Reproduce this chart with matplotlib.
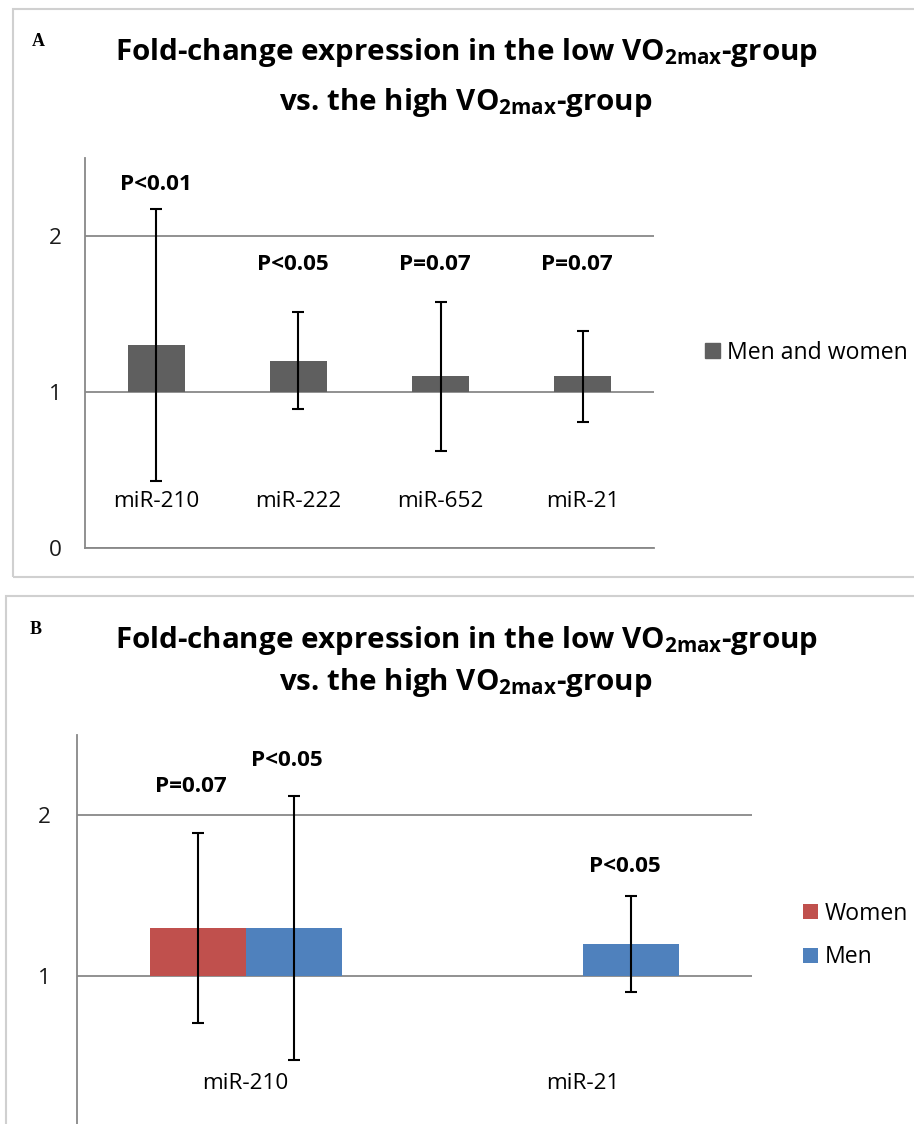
import numpy as np
import matplotlib
matplotlib.use("Agg")
import matplotlib.pyplot as plt
from matplotlib.patches import Rectangle, Patch

FONT = "Open Sans"
plt.rcParams["font.family"] = [FONT, "DejaVu Sans"]
plt.rcParams["mathtext.fontset"] = "custom"
plt.rcParams["mathtext.bf"] = FONT + ":bold"
plt.rcParams["mathtext.rm"] = FONT + ":bold"
plt.rcParams["mathtext.default"] = "bf"

# panel A: men and women pooled
mirs_a = ["miR-210", "miR-222", "miR-652", "miR-21"]
fold_a = [1.30, 1.20, 1.10, 1.10]
err_a = [0.87, 0.31, 0.48, 0.29]
pvals_a = ["P<0.01", "P<0.05", "P=0.07", "P=0.07"]

# panel B: split by sex (women not shown for miR-21)
mirs_b = ["miR-210", "miR-21"]
fold_women = [1.30, np.nan]
err_women = [0.59, np.nan]
fold_men = [1.30, 1.20]
err_men = [0.82, 0.30]
pvals_women = ["P=0.07", ""]
pvals_men = ["P<0.05", "P<0.05"]

title1 = "Fold-change expression in the low VO$_{2max}$-group"
title2 = "vs. the high VO$_{2max}$-group"

W, H = 914, 1124
GRID = "#888888"
GRAY_BAR = "#5f5f5f"
fig = plt.figure(figsize=(W / 100, H / 100), dpi=100)
renderer = fig.canvas.get_renderer()


def px(x0, y0, x1, y1):
    # pixel box (top-left origin) -> figure fraction rect
    return [x0 / W, 1 - y1 / H, (x1 - x0) / W, (y1 - y0) / H]


def fit_size(s, width_px, **kw):
    # font size that makes string s about width_px wide
    t = fig.text(0, 0, s, fontsize=20, **kw)
    w = t.get_window_extent(renderer).width
    t.remove()
    return 20 * width_px / w


TITLE_FS = fit_size(title1, 702, fontweight="bold")
AX_FS = fit_size("miR-210", 86)
LEG_FS = fit_size("Men and women", 180)
P_FS = fit_size("P<0.01", 72, fontweight="bold")


def style_axes(ax, ncat, ticks):
    ax.set_ylim(0, 2.5)
    ax.set_xlim(-0.5, ncat - 0.5)
    ax.set_yticks(ticks)
    ax.yaxis.grid(True, color=GRID, lw=1.3)
    ax.set_axisbelow(True)
    for s in ["top", "right"]:
        ax.spines[s].set_visible(False)
    for s in ["left", "bottom"]:
        ax.spines[s].set_color(GRID)
        ax.spines[s].set_linewidth(1.3)
    ax.set_xticks([])
    ax.tick_params(axis="y", length=0, labelsize=AX_FS, pad=17, colors="#1a1a1a")


def titles(b1, b2):
    fig.text(466 / W, 1 - b1 / H, title1, ha="center", va="baseline",
             fontsize=TITLE_FS, fontweight="bold")
    fig.text(466 / W, 1 - b2 / H, title2, ha="center", va="baseline",
             fontsize=TITLE_FS, fontweight="bold")


# panel frames
fig.patches.append(Rectangle((13 / W, 1 - 577 / H), 1.0, (577 - 9) / H,
                             transform=fig.transFigure, fill=False, ec="#d0d0d0", lw=1.5))
fig.patches.append(Rectangle((6 / W, -0.1), 1.0, 0.1 + (1124 - 596) / H,
                             transform=fig.transFigure, fill=False, ec="#d0d0d0", lw=1.5))

# ---- panel A
ax = fig.add_axes(px(85, 158, 654, 548))
style_axes(ax, len(mirs_a), [0, 1, 2])
xa = np.arange(len(mirs_a))
fa = np.array(fold_a)
ax.bar(xa, fa - 1, bottom=1, width=0.4, color=GRAY_BAR, zorder=2)
ax.errorbar(xa, fa, yerr=err_a, fmt="none", ecolor="black", elinewidth=1.5,
            capsize=4, capthick=1.5, zorder=3)
for i, m in enumerate(mirs_a):
    ax.text(i, 0.295, m, ha="center", va="center", fontsize=AX_FS)
pa_y = [2.33, 1.82, 1.82, 1.82]
for i, p in enumerate(pvals_a):
    ax.text(i - (0 if i == 0 else 0.04), pa_y[i], p, ha="center", va="center",
            fontsize=P_FS, fontweight="bold")
ax.legend(handles=[Patch(color=GRAY_BAR, label="Men and women")],
          loc="center left", bbox_to_anchor=(694 / W, 1 - 353 / H),
          bbox_transform=fig.transFigure, frameon=False, fontsize=LEG_FS,
          handlelength=0.62, handleheight=0.62, handletextpad=0.3, borderpad=0)
titles(60, 110)
fig.text(38 / W, 1 - 41 / H, "A", family="Liberation Serif", fontweight="bold",
         fontsize=13, ha="center", va="center")

# ---- panel B
bx = fig.add_axes(px(77, 734.5, 752, 1137))
style_axes(bx, len(mirs_b), [1, 2])
bx.tick_params(axis="y", pad=19)
xb = np.arange(len(mirs_b))
w = 0.285
fw = np.array(fold_women)
fm = np.array(fold_men)
bx.bar(xb - w / 2, fw - 1, bottom=1, width=w, color="#c0504d", zorder=2, label="Women")
bx.bar(xb + w / 2, fm - 1, bottom=1, width=w, color="#4f81bd", zorder=2, label="Men")
bx.errorbar(xb - w / 2, fw, yerr=err_women, fmt="none", ecolor="black",
            elinewidth=1.5, capsize=4, capthick=1.5, zorder=3)
bx.errorbar(xb + w / 2, fm, yerr=err_men, fmt="none", ecolor="black",
            elinewidth=1.5, capsize=4, capthick=1.5, zorder=3)
for i, m in enumerate(mirs_b):
    bx.text(i, 0.335, m, ha="center", va="center", fontsize=AX_FS)
pw_y = [2.18, 0]
pm_y = [2.34, 1.68]
for i in range(len(mirs_b)):
    if pvals_women[i]:
        bx.text(i - w / 2 - 0.02, pw_y[i], pvals_women[i], ha="center", va="center",
                fontsize=P_FS, fontweight="bold")
    bx.text(i + w / 2 - 0.02, pm_y[i], pvals_men[i], ha="center", va="center",
            fontsize=P_FS, fontweight="bold")
bx.legend(loc="center left", bbox_to_anchor=(792 / W, 1 - 935.5 / H),
          bbox_transform=fig.transFigure, frameon=False, fontsize=LEG_FS,
          handlelength=0.62, handleheight=0.62, handletextpad=0.3, borderpad=0,
          labelspacing=0.85)
titles(648, 690)
fig.text(36 / W, 1 - 629 / H, "B", family="Liberation Serif", fontweight="bold",
         fontsize=13, ha="center", va="center")

fig.savefig("out.png", dpi=100)
